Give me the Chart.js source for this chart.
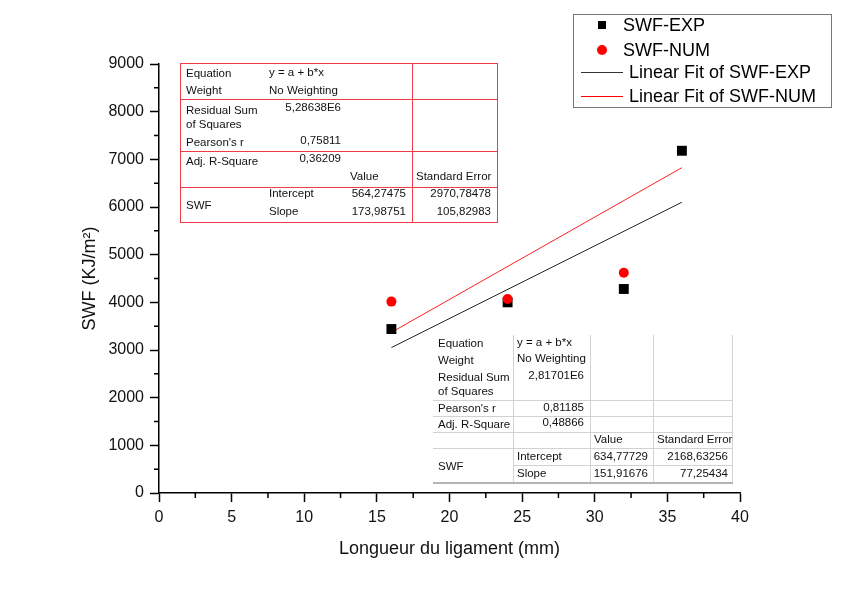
<!DOCTYPE html>
<html>
<head>
<meta charset="utf-8">
<script src="https://cdn.jsdelivr.net/npm/chart.js@4"></script>
<style>
    body { margin: 0; background: #fff; }
    #wrap { position: relative; width: 844px; height: 592px; font-family: Arial, "Liberation Sans", sans-serif; }
    #chart { position: absolute; left: 0; top: 0; }
    .txt { position: absolute; white-space: nowrap; font-size: 11.5px; line-height: 14px; color: #111; }
    .ln { position: absolute; }
    .leg { position: absolute; white-space: nowrap; font-size: 18px; line-height: 22px; color: #000; }
</style>
</head>
<body>
<div id="wrap">
    <canvas id="chart" width="844" height="592"></canvas>
</div>
<script>
// Data
const xExp = [16, 24, 32, 36];
const swfExp = [3440, 4000, 4280, 7180];
const xNum = [16, 24, 32];
const swfNum = [4015, 4070, 4620];

// Linear fit lines (end points)
const fitX = [16, 36];
const fitExp = [3050, 6100];
const fitNum = [3370, 6825];

const xTicks = [0, 5, 10, 15, 20, 25, 30, 35, 40];
const yTicks = [0, 1000, 2000, 3000, 4000, 5000, 6000, 7000, 8000, 9000];

// Fit statistics tables
const numStats = [
    ['Equation', 'y = a + b*x'],
    ['Weight', 'No Weighting'],
    ['Residual Sum of Squares', '5,28638E6'],
    ["Pearson's r", '0,75811'],
    ['Adj. R-Square', '0,36209'],
    ['Intercept', '564,27475', '2970,78478'],
    ['Slope', '173,98751', '105,82983']
];
const expStats = [
    ['Equation', 'y = a + b*x'],
    ['Weight', 'No Weighting'],
    ['Residual Sum of Squares', '2,81701E6'],
    ["Pearson's r", '0,81185'],
    ['Adj. R-Square', '0,48866'],
    ['Intercept', '634,77729', '2168,63256'],
    ['Slope', '151,91676', '77,25434']
];

function toPoints(xs, ys) {
    return xs.map((x, i) => ({ x: x, y: ys[i] }));
}

const wrap = document.getElementById('wrap');

// put a piece of text; x is left edge (or right edge when right = true), y is centre
function addText(text, x, y, right, cls) {
    const el = document.createElement('div');
    el.className = cls || 'txt';
    el.textContent = text;
    const lh = cls === 'leg' ? 22 : 14;
    el.style.top = (y - lh / 2) + 'px';
    if (right) {
        el.style.right = (844 - x) + 'px';
    } else {
        el.style.left = x + 'px';
    }
    wrap.appendChild(el);
}

function addLine(x, y, w, h, color) {
    const el = document.createElement('div');
    el.className = 'ln';
    el.style.left = x + 'px';
    el.style.top = y + 'px';
    el.style.width = w + 'px';
    el.style.height = h + 'px';
    el.style.background = color;
    wrap.appendChild(el);
}

// minor ticks between the labelled ones
const minorTicks = {
    id: 'minorTicks',
    afterDraw(chart) {
        const ctx = chart.ctx;
        const xs = chart.scales.x;
        const ys = chart.scales.y;
        ctx.save();
        ctx.strokeStyle = '#000';
        ctx.lineWidth = 1.5;
        ctx.beginPath();
        for (let i = 0; i < xTicks.length - 1; i++) {
            const px = xs.getPixelForValue((xTicks[i] + xTicks[i + 1]) / 2);
            ctx.moveTo(px, ys.bottom);
            ctx.lineTo(px, ys.bottom + 5);
        }
        for (let i = 0; i < yTicks.length - 1; i++) {
            const py = ys.getPixelForValue((yTicks[i] + yTicks[i + 1]) / 2);
            ctx.moveTo(xs.left, py);
            ctx.lineTo(xs.left - 5, py);
        }
        ctx.stroke();
        ctx.restore();
    }
};

const tickFont = { family: 'Arial, "Liberation Sans"', size: 16 };
const titleFont = { family: 'Arial, "Liberation Sans"', size: 18 };

new Chart(document.getElementById('chart'), {
    type: 'scatter',
    data: {
        datasets: [
            {
                label: 'SWF-NUM',
                data: toPoints(xNum, swfNum),
                pointStyle: 'circle',
                pointRadius: 5,
                backgroundColor: '#ff0000',
                borderColor: '#ff0000',
                borderWidth: 0
            },
            {
                label: 'SWF-EXP',
                data: toPoints(xExp, swfExp),
                pointStyle: 'rect',
                pointRadius: 7,
                backgroundColor: '#000',
                borderColor: '#000',
                borderWidth: 0
            },
            {
                label: 'Linear Fit of SWF-EXP',
                data: toPoints(fitX, fitExp),
                showLine: true,
                pointRadius: 0,
                borderColor: '#222',
                borderWidth: 1
            },
            {
                label: 'Linear Fit of SWF-NUM',
                data: toPoints(fitX, fitNum),
                showLine: true,
                pointRadius: 0,
                borderColor: '#ff2020',
                borderWidth: 1
            }
        ]
    },
    options: {
        responsive: false,
        animation: false,
        layout: { padding: { top: 64, right: 104, left: 0, bottom: 0 } },
        plugins: {
            legend: { display: false },
            tooltip: { enabled: false }
        },
        scales: {
            x: {
                type: 'linear',
                min: 0,
                max: 40,
                afterBuildTicks: function (scale) {
                    scale.ticks = xTicks.map(v => ({ value: v }));
                },
                afterFit: function (scale) { scale.height = 99; },
                border: { color: '#000', width: 1.5 },
                grid: { drawOnChartArea: false, tickLength: 9, tickColor: '#000', tickWidth: 1.5 },
                ticks: {
                    color: '#111',
                    padding: 6,
                    font: tickFont,
                    callback: function (value) { return String(value); }
                },
                title: {
                    display: true,
                    text: 'Longueur du ligament (mm)',
                    color: '#111',
                    font: titleFont,
                    padding: { top: 0, bottom: 32 }
                }
            },
            y: {
                min: 0,
                max: 9000,
                afterBuildTicks: function (scale) {
                    scale.ticks = yTicks.map(v => ({ value: v }));
                },
                afterFit: function (scale) { scale.width = 159; },
                border: { color: '#000', width: 1.5 },
                grid: { drawOnChartArea: false, tickLength: 9, tickColor: '#000', tickWidth: 1.5 },
                ticks: {
                    color: '#111',
                    padding: 6,
                    font: tickFont,
                    callback: function (value) { return String(value); }
                },
                title: {
                    display: true,
                    text: 'SWF (KJ/m²)',
                    color: '#111',
                    font: titleFont,
                    padding: { top: 79, bottom: 0 }
                }
            }
        }
    },
    plugins: [minorTicks]
});

// ---- legend ----
const legBox = document.createElement('div');
legBox.style.cssText = 'position:absolute;left:573px;top:14px;width:257px;height:92px;border:1px solid #777;';
wrap.appendChild(legBox);
addLine(598, 21, 8, 8, '#000');
const dot = document.createElement('div');
dot.style.cssText = 'position:absolute;left:597px;top:45px;width:10px;height:10px;border-radius:50%;background:#ff0000;';
wrap.appendChild(dot);
addLine(581, 72, 42, 1, '#333');
addLine(581, 96, 42, 1, '#ff0000');
addText('SWF-EXP', 623, 25, false, 'leg');
addText('SWF-NUM', 623, 50, false, 'leg');
addText('Linear Fit of SWF-EXP', 629, 72, false, 'leg');
addText('Linear Fit of SWF-NUM', 629, 96, false, 'leg');

// ---- red table (fit of SWF-NUM) ----
const red = '#ee3b45';
const t1 = document.createElement('div');
t1.style.cssText = 'position:absolute;left:180px;top:63px;width:316px;height:158px;border:1px solid ' + red + ';';
wrap.appendChild(t1);
addLine(180, 99, 317, 1, red);
addLine(180, 151, 317, 1, red);
addLine(180, 187, 317, 1, red);
addLine(412, 63, 1, 159, red);
addText(numStats[0][0], 186, 73);
addText(numStats[0][1], 269, 72);
addText(numStats[1][0], 186, 90);
addText(numStats[1][1], 269, 90);
addText('Residual Sum', 186, 110);
addText('of Squares', 186, 124);
addText(numStats[2][1], 341, 107, true);
addText(numStats[3][0], 186, 142);
addText(numStats[3][1], 341, 140, true);
addText(numStats[4][0], 186, 161);
addText(numStats[4][1], 341, 158, true);
addText('Value', 350, 176);
addText('Standard Error', 416, 176);
addText('SWF', 186, 205);
addText(numStats[5][0], 269, 193);
addText(numStats[5][1], 406, 193, true);
addText(numStats[5][2], 491, 193, true);
addText(numStats[6][0], 269, 211);
addText(numStats[6][1], 406, 211, true);
addText(numStats[6][2], 491, 211, true);

// ---- grey table (fit of SWF-EXP) ----
const grey = '#d2d2d2';
addLine(433, 400, 299, 1, grey);
addLine(433, 416, 299, 1, grey);
addLine(433, 432, 299, 1, grey);
addLine(433, 448, 299, 1, grey);
addLine(513, 465, 219, 1, grey);
addLine(433, 482, 300, 2, '#b5b5b5');
addLine(513, 335, 1, 147, grey);
addLine(590, 335, 1, 147, grey);
addLine(653, 335, 1, 147, grey);
addLine(732, 335, 1, 147, grey);
addText(expStats[0][0], 438, 343);
addText(expStats[0][1], 517, 342);
addText(expStats[1][0], 438, 360);
addText(expStats[1][1], 517, 358);
addText('Residual Sum', 438, 377);
addText('of Squares', 438, 391);
addText(expStats[2][1], 584, 375, true);
addText(expStats[3][0], 438, 408);
addText(expStats[3][1], 584, 407, true);
addText(expStats[4][0], 438, 424);
addText(expStats[4][1], 584, 422, true);
addText('Value', 594, 439);
addText('Standard Error', 657, 439);
addText('SWF', 438, 466);
addText(expStats[5][0], 517, 456);
addText(expStats[5][1], 648, 456, true);
addText(expStats[5][2], 728, 456, true);
addText(expStats[6][0], 517, 473);
addText(expStats[6][1], 648, 473, true);
addText(expStats[6][2], 728, 473, true);
</script>
</body>
</html>
